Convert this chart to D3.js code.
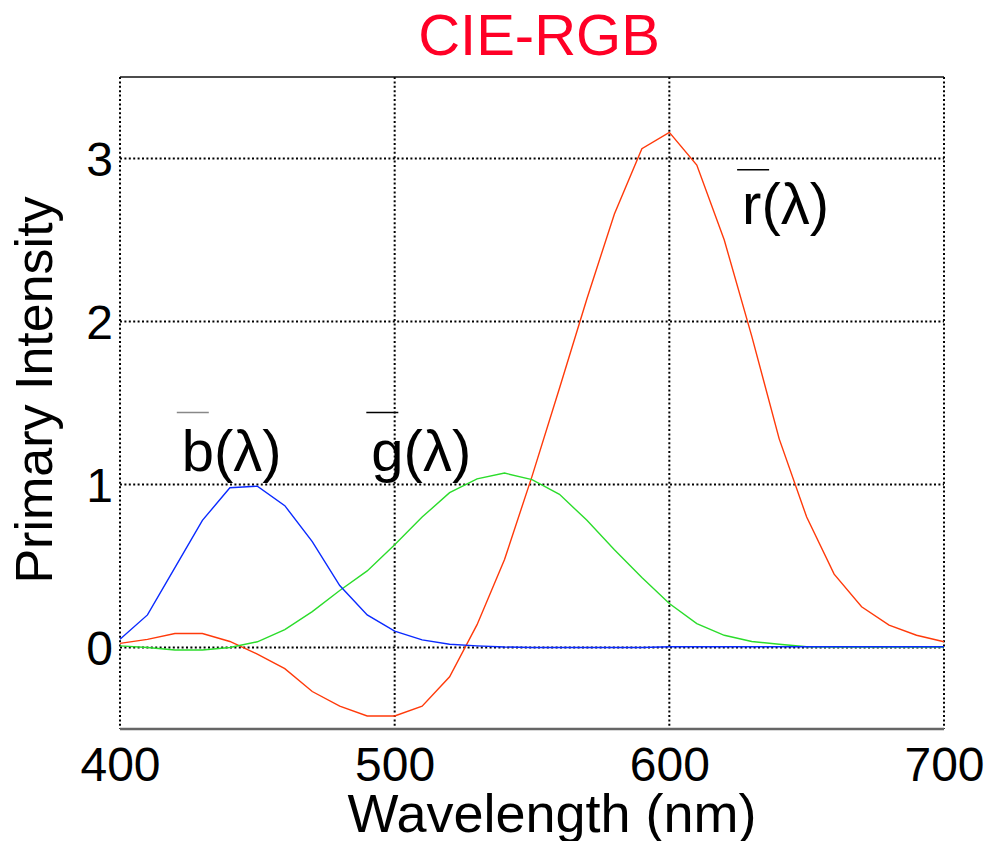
<!DOCTYPE html>
<html>
<head>
<meta charset="utf-8">
<script src="https://cdn.jsdelivr.net/npm/d3@7/dist/d3.min.js"></script>
<style>
  html, body { margin: 0; padding: 0; background: #fff; }
  svg { display: block; font-family: "Liberation Sans", Arial, sans-serif; }
</style>
</head>
<body>
<svg id="chart" width="991" height="841"></svg>
<script>
const wavelengths = d3.range(400, 701, 10);
const rBar = [0.025, 0.05, 0.086, 0.086, 0.037, -0.04, -0.13, -0.27, -0.36, -0.42, -0.42,
              -0.36, -0.18, 0.14, 0.54, 1.05, 1.59, 2.14, 2.66, 3.06, 3.16,
              2.96, 2.50, 1.91, 1.28, 0.80, 0.45, 0.25, 0.137, 0.075, 0.035];
const gBar = [0.01, 0.0, -0.015, -0.015, 0.0, 0.035, 0.11, 0.22, 0.35, 0.47, 0.63,
              0.80, 0.95, 1.035, 1.07, 1.03, 0.94, 0.78, 0.60, 0.43, 0.27,
              0.147, 0.075, 0.037, 0.02, 0.005, 0.003, 0.002, 0.002, 0.002, 0.002];
const bBar = [0.05, 0.20, 0.49, 0.78, 0.98, 0.99, 0.87, 0.65, 0.38, 0.20, 0.10,
              0.047, 0.02, 0.01, 0.003, 0.0, 0.0, 0.0, 0.0, 0.0, 0.005,
              0.005, 0.005, 0.005, 0.005, 0.005, 0.005, 0.005, 0.005, 0.005, 0.005];
const xTicks = [400, 500, 600, 700];
const yTicks = [0, 1, 2, 3];
const seriesNames = ["r", "g", "b"];
const curveLabels = [
  {name: "b", wl: 422.5, val: 1.08},
  {name: "g", wl: 491.5, val: 1.08},
  {name: "r", wl: 626.5, val: 2.60}
];

const svg = d3.select("#chart");
const x = d3.scaleLinear().domain([400, 700]).range([120, 944]);
const y = d3.scaleLinear().domain([-0.5, 3.5]).range([729, 77]);

const series = [
  {name: "r", values: rBar, color: "#ff3a0a"},
  {name: "g", values: gBar, color: "#2bdc2b"},
  {name: "b", values: bBar, color: "#0a2aff"}
];

// Gridlines (dotted)
const grid = svg.append("g");
grid.selectAll("line.vg").data(xTicks).join("line")
  .attr("x1", d => x(d)).attr("x2", d => x(d))
  .attr("y1", y(3.5)).attr("y2", y(-0.5))
  .attr("stroke", "#000").attr("stroke-width", 2)
  .attr("stroke-dasharray", "2,2.4");
grid.selectAll("line.hg").data(yTicks).join("line")
  .attr("x1", x(400)).attr("x2", x(700))
  .attr("y1", d => y(d)).attr("y2", d => y(d))
  .attr("stroke", "#000").attr("stroke-width", 2)
  .attr("stroke-dasharray", "2,2.4");

// Frame: top solid black, bottom gray
svg.append("line").attr("x1", x(400)).attr("x2", x(700)).attr("y1", y(3.5)).attr("y2", y(3.5))
  .attr("stroke", "#111").attr("stroke-width", 1.5);
svg.append("line").attr("x1", x(400)).attr("x2", x(700)).attr("y1", y(-0.5)).attr("y2", y(-0.5))
  .attr("stroke", "#666").attr("stroke-width", 2.5);

// Axes (ticks and labels only)
const xAxis = d3.axisBottom(x).tickValues(xTicks).tickSize(0).tickPadding(0).tickFormat(d3.format("d"));
const gx = svg.append("g").attr("transform", `translate(0,${y(-0.5)})`).call(xAxis);
gx.select(".domain").remove();
gx.selectAll("text").attr("font-size", 48).attr("fill", "#000")
  .attr("font-family", "Liberation Sans, Arial, sans-serif")
  .attr("dy", null).attr("y", 52);

const yAxis = d3.axisLeft(y).tickValues(yTicks).tickSize(0).tickPadding(7).tickFormat(d3.format("d"));
const gy = svg.append("g").attr("transform", `translate(${x(400)},0)`).call(yAxis);
gy.select(".domain").remove();
gy.selectAll("text").attr("font-size", 48).attr("fill", "#000")
  .attr("font-family", "Liberation Sans, Arial, sans-serif")
  .attr("dy", "0.36em");

// Lines
const line = d3.line().x((d, i) => x(wavelengths[i])).y(d => y(d));
svg.append("g").selectAll("path").data(series).join("path")
  .attr("d", d => line(d.values))
  .attr("fill", "none")
  .attr("stroke", d => d.color)
  .attr("stroke-width", 1.4);

// Curve labels with overline
const lab = svg.append("g").selectAll("g").data(curveLabels).join("g")
  .attr("transform", d => `translate(${x(d.wl)},${y(d.val)})`);
lab.append("text")
  .attr("font-size", 58).attr("fill", "#000")
  .attr("font-family", "Liberation Sans, Arial, sans-serif")
  .text(d => d.name + "(λ)");
lab.append("line")
  .attr("x1", -5).attr("x2", 27)
  .attr("y1", d => d.name === "r" ? -54 : -59)
  .attr("y2", d => d.name === "r" ? -54 : -59)
  .attr("stroke", d => d.name === "b" ? "#888" : "#000")
  .attr("stroke-width", 1.5);

// Title
svg.append("text").attr("x", 539).attr("y", 55).attr("text-anchor", "middle")
  .attr("font-size", 58).attr("fill", "#ff0026").text("CIE-RGB");

// Axis labels
svg.append("text").attr("x", 552).attr("y", 832).attr("text-anchor", "middle")
  .attr("font-size", 54).attr("fill", "#000").text("Wavelength (nm)");
svg.append("text").attr("transform", "translate(52,390) rotate(-90)").attr("text-anchor", "middle")
  .attr("font-size", 52).attr("fill", "#000").text("Primary Intensity");
</script>
</body>
</html>
